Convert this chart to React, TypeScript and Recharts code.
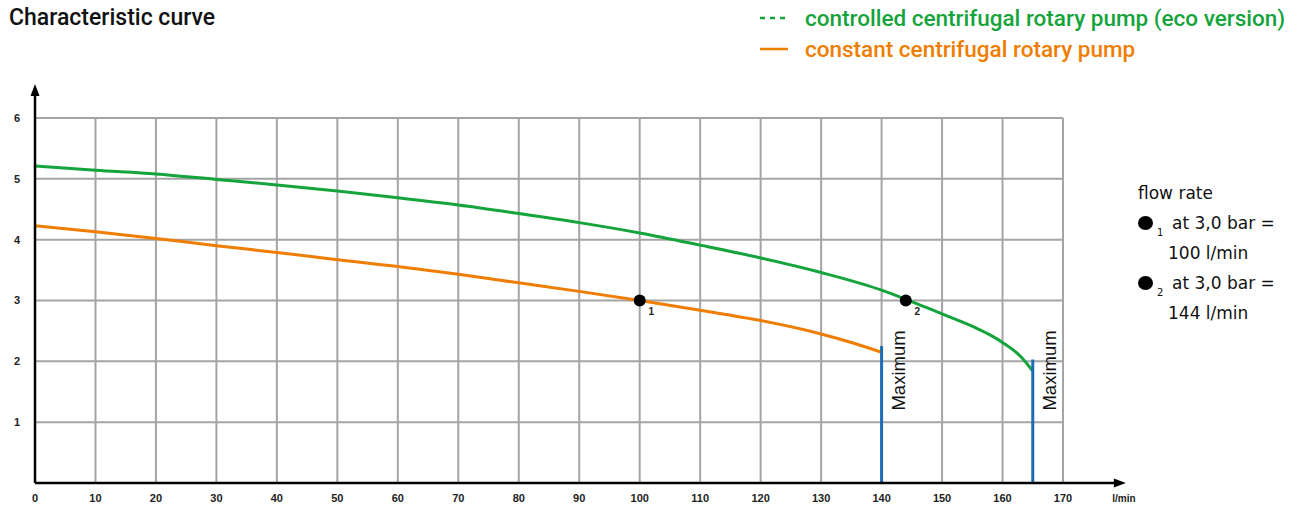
import React from 'react';
import { LineChart, Line, XAxis, YAxis, CartesianGrid, ReferenceLine, ReferenceDot } from 'recharts';

const flowTicks = [0, 10, 20, 30, 40, 50, 60, 70, 80, 90, 100, 110, 120, 130, 140, 150, 160, 170];
const pressureTicks = [0, 1, 2, 3, 4, 5, 6];

const ecoFlow = [0, 10, 20, 30, 40, 50, 60, 70, 80, 90, 100, 110, 120, 130, 140, 144, 150, 153, 156, 158, 160, 163, 165];
const ecoPressure = [5.21, 5.14, 5.08, 4.99, 4.9, 4.8, 4.69, 4.57, 4.43, 4.28, 4.11, 3.91, 3.7, 3.46, 3.17, 3.02, 2.78, 2.66, 2.53, 2.43, 2.31, 2.08, 1.84];

const constFlow = [0, 10, 20, 30, 40, 50, 60, 70, 80, 90, 100, 110, 120, 130, 135, 140];
const constPressure = [4.23, 4.13, 4.02, 3.9, 3.79, 3.67, 3.56, 3.43, 3.29, 3.15, 3.0, 2.84, 2.67, 2.45, 2.31, 2.15];

const operatingFlow = [100, 144];
const operatingPressure = [3, 3];
const operatingLabels = ['1', '2'];

const maximumFlow = [140, 165];
const maximumPressure = [2.25, 2.03];
const maximumLabel = 'Maximum';

const seriesNames = ['controlled centrifugal rotary pump (eco version)', 'constant centrifugal rotary pump'];
const titleText = 'Characteristic curve';
const unitLabel = 'l/min';
const noteTitle = 'flow rate';
const noteRows = [
  { mark: '1', line1: 'at 3,0 bar =', line2: '100 l/min' },
  { mark: '2', line1: 'at 3,0 bar =', line2: '144 l/min' },
];

const GREEN = '#14a43b';
const ORANGE = '#ef7d00';
const BLUE = '#1c6db5';
const GRID = '#a4a4a4';

const ecoData = ecoFlow.map((x, i) => ({ x, y: ecoPressure[i] }));
const constData = constFlow.map((x, i) => ({ x, y: constPressure[i] }));

const tickStyle = { fontSize: 11, fontWeight: 'bold', fill: '#222', fontFamily: 'Liberation Sans, Arial, sans-serif' };

export default function App() {
  return (
    <div style={{ position: 'absolute', left: 0, top: 0, width: 1301, height: 506, background: '#fff' }}>
      <LineChart width={1301} height={506} margin={{ top: 118, right: 238, bottom: 0, left: 0 }}>
        <CartesianGrid stroke={GRID} strokeWidth={2} />
        <XAxis
          type="number"
          dataKey="x"
          domain={[0, 170]}
          ticks={flowTicks}
          interval={0}
          height={23}
          axisLine={false}
          tickLine={false}
          tickSize={0}
          tickMargin={11}
          tick={tickStyle}
          allowDataOverflow
        />
        <YAxis
          type="number"
          dataKey="y"
          domain={[0, 6]}
          ticks={pressureTicks}
          interval={0}
          width={35}
          axisLine={false}
          tickLine={false}
          tickSize={0}
          tickMargin={15}
          tick={tickStyle}
          tickFormatter={(v: number) => (v === 0 ? '' : String(v))}
          allowDataOverflow
        />
        <Line data={ecoData} dataKey="y" name={seriesNames[0]} type="monotone" stroke={GREEN} strokeWidth={3} dot={false} isAnimationActive={false} />
        <Line data={constData} dataKey="y" name={seriesNames[1]} type="monotone" stroke={ORANGE} strokeWidth={3} dot={false} isAnimationActive={false} />

        {maximumFlow.map((f, i) => (
          <ReferenceLine key={'max' + i} segment={[{ x: f, y: 0 }, { x: f, y: maximumPressure[i] }]} stroke={BLUE} strokeWidth={3} ifOverflow="visible" />
        ))}
        {maximumFlow.map((f, i) => (
          <ReferenceDot
            key={'maxl' + i}
            x={f}
            y={1.85}
            ifOverflow="visible"
            shape={(p: any) => (
              <text
                x={p.cx + 23}
                y={p.cy}
                transform={`rotate(-90 ${p.cx + 23} ${p.cy})`}
                textAnchor="middle"
                fontSize={18.5}
                fill="#111"
                fontFamily="Liberation Sans, Arial, sans-serif"
              >
                {maximumLabel}
              </text>
            )}
          />
        ))}

        <ReferenceLine segment={[{ x: 0, y: 0 }, { x: 0, y: 6.38 }]} stroke="#000" strokeWidth={2.5} ifOverflow="visible" />
        <ReferenceLine segment={[{ x: 0, y: 0 }, { x: 178.6, y: 0 }]} stroke="#000" strokeWidth={2.5} ifOverflow="visible" />
        <ReferenceDot
          x={0}
          y={6.56}
          ifOverflow="visible"
          shape={(p: any) => <path d={`M${p.cx},${p.cy} l-4.5,12 h9 z`} fill="#000" />}
        />
        <ReferenceDot
          x={180.4}
          y={0}
          ifOverflow="visible"
          shape={(p: any) => (
            <g>
              <path d={`M${p.cx},${p.cy} l-12,-4.5 v9 z`} fill="#000" />
              <text x={p.cx - 2} y={p.cy + 19} textAnchor="middle" fontSize={10} fontWeight="bold" fill="#222" fontFamily="Liberation Sans, Arial, sans-serif">
                {unitLabel}
              </text>
            </g>
          )}
        />

        {operatingFlow.map((f, i) => (
          <ReferenceDot
            key={'op' + i}
            x={f}
            y={operatingPressure[i]}
            ifOverflow="visible"
            shape={(p: any) => (
              <g>
                <circle cx={p.cx} cy={p.cy} r={6} fill="#000" />
                <text x={p.cx + 11.5} y={p.cy + 14} textAnchor="middle" fontSize={10} fontWeight="bold" fill="#222" fontFamily="Liberation Sans, Arial, sans-serif">
                  {operatingLabels[i]}
                </text>
              </g>
            )}
          />
        ))}
      </LineChart>

      <svg width={1301} height={506} style={{ position: 'absolute', left: 0, top: 0, pointerEvents: 'none' }}>
        <text x={9} y={25} fontSize={23} fontWeight={500} fill="#111" fontFamily="Roboto, sans-serif">{titleText}</text>
        <g stroke={GREEN} strokeWidth={2.5}>
          <line x1={760} y1={18} x2={765} y2={18} />
          <line x1={770} y1={18} x2={775} y2={18} />
          <line x1={780} y1={18} x2={785} y2={18} />
        </g>
        <text x={805} y={26} fill={GREEN} fontSize={22.5} fontWeight={500} fontFamily="Roboto, sans-serif">{seriesNames[0]}</text>
        <line x1={760} y1={49} x2={788} y2={49} stroke={ORANGE} strokeWidth={2.5} />
        <text x={805} y={57} fill={ORANGE} fontSize={22.5} fontWeight={500} fontFamily="Roboto, sans-serif">{seriesNames[1]}</text>
        <g fontFamily="DejaVu Sans, sans-serif" fontSize={17} fill="#111">
          <text x={1138} y={199}>{noteTitle}</text>
          {noteRows.map((r, i) => (
            <g key={i}>
              <ellipse cx={1145.5} cy={223 + i * 60} rx={7.5} ry={7} fill="#000" />
              <text x={1157} y={236 + i * 60} fontSize={10}>{r.mark}</text>
              <text x={1172} y={229 + i * 60}>{r.line1}</text>
              <text x={1168} y={259 + i * 60}>{r.line2}</text>
            </g>
          ))}
        </g>
      </svg>
    </div>
  );
}
